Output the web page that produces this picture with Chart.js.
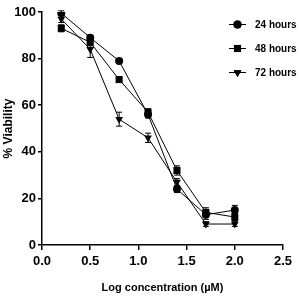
<!DOCTYPE html>
<html>
<head>
<meta charset="utf-8">
<script src="https://cdn.jsdelivr.net/npm/chart.js@4.4.0/dist/chart.umd.min.js"></script>
<style>
  html, body { margin: 0; padding: 0; background: #fff; }
  #wrap { width: 299px; height: 299px; }
</style>
</head>
<body>
<div id="wrap"><canvas id="myChart" width="299" height="299"></canvas></div>
<script>
var logConc = [0.2, 0.5, 0.8, 1.1, 1.4, 1.7, 2.0];
var seriesNames = ["24 hours", "48 hours", "72 hours"];
var h24 = [99.5, 89, 79, 56, 24, 13, 15];
var h48 = [93, 87, 71, 57, 32, 14, 12];
var h72 = [97, 84, 54, 46, 27, 9, 9];
var err24 = [1, 1, 1, 1.5, 1.5, 2, 2];
var err48 = [1.5, 1.5, 1, 1.5, 2, 2, 1.5];
var err72 = [1.5, 3.5, 3, 2, 1.5, 1, 1];
var xTicks = [0, 0.5, 1.0, 1.5, 2.0, 2.5];

var fontFam = '"Liberation Sans", Arial, sans-serif';

function pts(vals) {
	var out = [];
	for (var i = 0; i < logConc.length; i++) out.push({x: logConc[i], y: vals[i]});
	return out;
}

var styles = [
	{pointStyle: 'circle', rotation: 0, radius: 4},
	{pointStyle: 'rect', rotation: 0, radius: 5},
	{pointStyle: 'triangle', rotation: 180, radius: 4.5}
];
var errs = [err24, err48, err72];

var errorBars = {
	id: 'errorBars',
	afterDatasetsDraw: function(chart) {
		var ctx = chart.ctx;
		var ys = chart.scales.y, xs = chart.scales.x;
		ctx.save();
		ctx.strokeStyle = '#000';
		ctx.lineWidth = 1;
		chart.data.datasets.forEach(function(ds, di) {
			ds.data.forEach(function(p, i) {
				var e = errs[di][i];
				var px = xs.getPixelForValue(p.x);
				var t = ys.getPixelForValue(p.y + e);
				var b = ys.getPixelForValue(p.y - e);
				ctx.beginPath();
				ctx.moveTo(px, t); ctx.lineTo(px, b);
				ctx.moveTo(px - 3, t); ctx.lineTo(px + 3, t);
				ctx.moveTo(px - 3, b); ctx.lineTo(px + 3, b);
				ctx.stroke();
			});
		});
		ctx.restore();
	}
};

var sideLegend = {
	id: 'sideLegend',
	afterDraw: function(chart) {
		var ctx = chart.ctx;
		ctx.save();
		ctx.fillStyle = '#000';
		ctx.strokeStyle = '#000';
		ctx.font = 'bold 10px ' + fontFam;
		ctx.textBaseline = 'middle';
		ctx.textAlign = 'left';
		for (var i = 0; i < seriesNames.length; i++) {
			var y = 24.5 + i * 24;
			ctx.lineWidth = 1;
			ctx.beginPath();
			ctx.moveTo(229, y); ctx.lineTo(246, y);
			ctx.stroke();
			Chart.helpers.drawPoint(ctx, styles[i], 237.5, y);
			ctx.fill();
			ctx.fillText(seriesNames[i], 255, y + 0.5);
		}
		ctx.restore();
	}
};

var dataSets = [h24, h48, h72].map(function(v, i) {
	return {
		label: seriesNames[i],
		data: pts(v),
		borderColor: '#000',
		backgroundColor: '#000',
		borderWidth: 1,
		pointStyle: styles[i].pointStyle,
		pointRotation: styles[i].rotation,
		pointRadius: styles[i].radius,
		pointBorderWidth: 0,
		tension: 0,
		fill: false
	};
});

new Chart("myChart", {
	type: "line",
	data: { datasets: dataSets },
	plugins: [errorBars, sideLegend],
	options: {
		responsive: false,
		animation: false,
		layout: { padding: {top: 12, right: 16, bottom: 0, left: 0} },
		plugins: { legend: false, tooltip: false },
		scales: {
			x: {
				type: 'linear',
				min: 0, max: 2.5,
				afterBuildTicks: function(scale) { scale.ticks = xTicks.map(function(v) { return {value: v}; }); },
				afterFit: function(scale) { scale.height = 54; },
				border: { color: '#000', width: 1.5 },
				grid: { display: true, drawOnChartArea: false, drawTicks: true, tickLength: 5, color: '#000', lineWidth: 1.5 },
				ticks: {
					color: '#000',
					padding: 4,
					maxRotation: 0,
					font: { family: fontFam, size: 13, weight: 'bold' },
					callback: function(v) { return Number(v).toFixed(1); }
				},
				title: {
					display: true,
					text: 'Log concentration (µM)',
					color: '#000',
					padding: {top: 5},
					font: { family: fontFam, size: 11, weight: 'bold' }
				}
			},
			y: {
				min: 0, max: 100,
				afterFit: function(scale) { scale.width = 42; },
				border: { color: '#000', width: 1.5 },
				grid: { display: true, drawOnChartArea: false, drawTicks: true, tickLength: 4, color: '#000', lineWidth: 1.5 },
				ticks: {
					stepSize: 20,
					color: '#000',
					padding: 2,
					font: { family: fontFam, size: 13, weight: 'bold' }
				},
				title: {
					display: true,
					text: '% Viability',
					color: '#000',
					padding: {top: 1, bottom: 0},
					font: { family: fontFam, size: 12, weight: 'bold' }
				}
			}
		}
	}
});
</script>
</body>
</html>
